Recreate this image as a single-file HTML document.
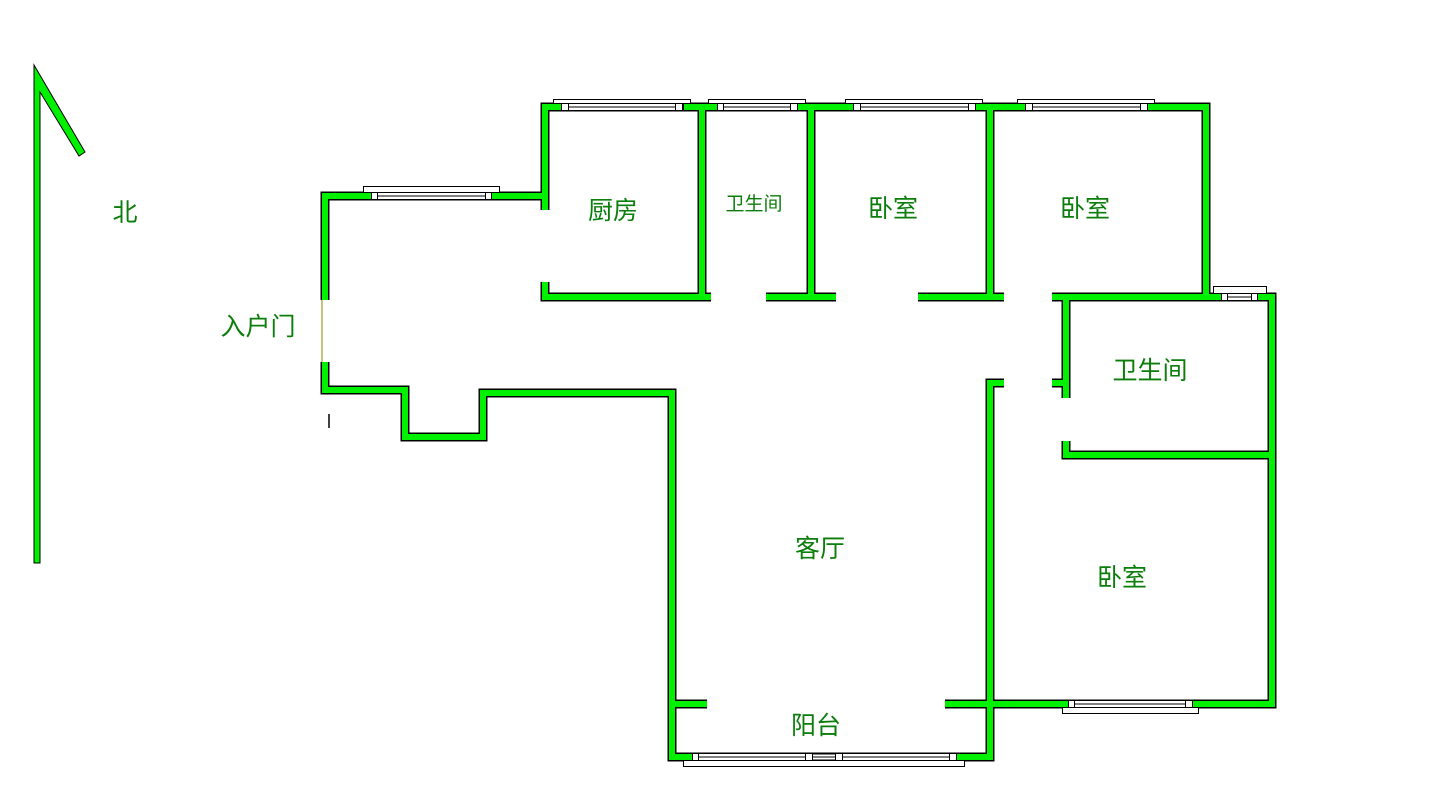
<!DOCTYPE html>
<html><head><meta charset="utf-8"><style>
html,body{margin:0;padding:0;background:#fff;}
svg{display:block}
text{font-family:"Liberation Sans","Noto Sans CJK SC",sans-serif;fill:#0b7d0b;font-size:25px;text-anchor:middle}
</style></head><body>
<svg width="1436" height="800" viewBox="0 0 1436 800" xmlns="http://www.w3.org/2000/svg">
<g fill="none" stroke-linecap="butt" stroke-linejoin="miter">
<g stroke="#000" stroke-width="9">
<polyline points="325,300 325,196 545,196"/>
<polyline points="545,210 545,107 1206,107 1206,297"/>
<polyline points="545,282 545,297 711,297"/>
<line x1="702" y1="107" x2="702" y2="297"/>
<line x1="811" y1="107" x2="811" y2="297"/>
<line x1="990" y1="107" x2="990" y2="297"/>
<line x1="766" y1="297" x2="836" y2="297"/>
<line x1="918" y1="297" x2="1004" y2="297"/>
<polyline points="1052,297 1272,297 1272,704 945,704"/>
<polyline points="1066,297 1066,398"/>
<line x1="1052" y1="383" x2="1066" y2="383"/>
<polyline points="1066,441 1066,455 1272,455"/>
<polyline points="1004,383 990,383 990,757 672,757 672,393 483,393 483,437 405,437 405,390 325,390 325,362"/>
<line x1="672" y1="704" x2="707" y2="704"/>
</g>
<g stroke="#00f000" stroke-width="6">
<polyline points="325,300 325,196 545,196"/>
<polyline points="545,210 545,107 1206,107 1206,297"/>
<polyline points="545,282 545,297 711,297"/>
<line x1="702" y1="107" x2="702" y2="297"/>
<line x1="811" y1="107" x2="811" y2="297"/>
<line x1="990" y1="107" x2="990" y2="297"/>
<line x1="766" y1="297" x2="836" y2="297"/>
<line x1="918" y1="297" x2="1004" y2="297"/>
<polyline points="1052,297 1272,297 1272,704 945,704"/>
<polyline points="1066,297 1066,398"/>
<line x1="1052" y1="383" x2="1066" y2="383"/>
<polyline points="1066,441 1066,455 1272,455"/>
<polyline points="1004,383 990,383 990,757 672,757 672,393 483,393 483,437 405,437 405,390 325,390 325,362"/>
<line x1="672" y1="704" x2="707" y2="704"/>
</g>
</g>
<line x1="322" y1="300" x2="322" y2="362" stroke="#8a8a00" stroke-width="1"/>
<line x1="329" y1="414" x2="329" y2="428" stroke="#000" stroke-width="1.5"/>
<polygon points="34,65 34,563 40,563 40,92 79,156 85,152" fill="#00f000" stroke="#000" stroke-width="1"/>
<g stroke="#000" stroke-width="1" fill="#fff">
<rect x="363.5" y="186.5" width="136" height="6"/>
<rect x="371.5" y="192.5" width="120" height="7"/>
<line x1="377" y1="196" x2="486" y2="196"/>
<rect x="371.5" y="192.5" width="6" height="7"/><rect x="485.5" y="192.5" width="6" height="7"/>

<rect x="553.5" y="99.5" width="137" height="4"/>
<rect x="561.5" y="103.5" width="122" height="7"/>
<line x1="567" y1="107" x2="677" y2="107"/>
<rect x="561.5" y="103.5" width="7" height="7"/><rect x="675.5" y="103.5" width="7" height="7"/>

<rect x="708.5" y="99.5" width="97" height="4"/>
<rect x="717.5" y="103.5" width="80" height="7"/>
<line x1="723" y1="107" x2="791" y2="107"/>
<rect x="717.5" y="103.5" width="6" height="7"/><rect x="790.5" y="103.5" width="7" height="7"/>

<rect x="845.5" y="99.5" width="137" height="4"/>
<rect x="853.5" y="103.5" width="122" height="7"/>
<line x1="859" y1="107" x2="969" y2="107"/>
<rect x="853.5" y="103.5" width="7" height="7"/><rect x="968.5" y="103.5" width="7" height="7"/>

<rect x="1017.5" y="99.5" width="137" height="4"/>
<rect x="1025.5" y="103.5" width="122" height="7"/>
<line x1="1031" y1="107" x2="1141" y2="107"/>
<rect x="1025.5" y="103.5" width="7" height="7"/><rect x="1140.5" y="103.5" width="7" height="7"/>

<rect x="1213.5" y="286.5" width="53" height="7"/>
<rect x="1221.5" y="293.5" width="36" height="7"/>
<line x1="1227" y1="297" x2="1252" y2="297"/>
<rect x="1221.5" y="293.5" width="6" height="7"/><rect x="1251.5" y="293.5" width="6" height="7"/>

<rect x="1062.5" y="707.5" width="136" height="6"/>
<rect x="1068.5" y="700.5" width="124" height="7"/>
<line x1="1074" y1="704" x2="1186" y2="704"/>
<rect x="1068.5" y="700.5" width="6" height="7"/><rect x="1185.5" y="700.5" width="7" height="7"/>

<rect x="683.5" y="760.5" width="281" height="6"/>
<rect x="692.5" y="753.5" width="264" height="7"/>
<line x1="698" y1="757" x2="950" y2="757"/>
<rect x="692.5" y="753.5" width="6" height="7"/><rect x="805.5" y="753.5" width="7" height="7"/>
<rect x="835.5" y="753.5" width="7" height="7"/><rect x="949.5" y="753.5" width="7" height="7"/>
<line x1="812" y1="754" x2="836" y2="754"/><line x1="812" y1="760" x2="836" y2="760"/>
</g>
<text x="125" y="221">北</text>
<text x="258" y="335">入户门</text>
<text x="613" y="219">厨房</text>
<text x="754" y="210" style="font-size:19px">卫生间</text>
<text x="893" y="217">卧室</text>
<text x="1085" y="217">卧室</text>
<text x="1150" y="379">卫生间</text>
<text x="820" y="557">客厅</text>
<text x="1122" y="586">卧室</text>
<text x="816" y="734">阳台</text>
</svg>
</body></html>
